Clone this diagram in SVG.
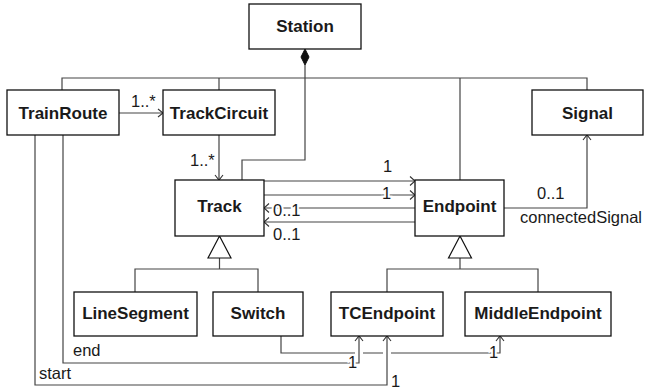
<svg xmlns="http://www.w3.org/2000/svg" width="645" height="390" viewBox="0 0 645 390">
<style>
.box{fill:#fff;stroke:#111;stroke-width:1.3}
.cn{font-family:"Liberation Sans",Arial,sans-serif;font-weight:bold;font-size:17px;fill:#1a1a1a;text-anchor:middle}
.ln{fill:none;stroke:#444;stroke-width:1.2}
.lbl{font-family:"Liberation Sans",Arial,sans-serif;font-size:16.5px;fill:#1a1a1a}
.bg{stroke:#fff;stroke-width:4;paint-order:stroke}
.ah{fill:none;stroke:#333;stroke-width:1.1}
.tri{fill:#fff;stroke:#111;stroke-width:1.2}
</style>
<rect width="645" height="390" fill="#fff"/>
<g id="connectors">
  <!-- composition bus from Station -->
  <polygon points="305,49 309,57 305,65 301,57" fill="#111" stroke="#111" stroke-width="1"/>
  <path class="ln" d="M305,65 V160 H242 V180"/>
  <path class="ln" d="M62,90 V78 H587 V90"/>
  <path class="ln" d="M219,78 V90"/>
  <path class="ln" d="M460,78 V180"/>
  <!-- TrainRoute -> TrackCircuit -->
  <path class="ln" d="M119,113 H163"/>
  <path class="ah" d="M158,109 L163,113 L158,117"/>
  <text class="lbl" x="131" y="107">1..*</text>
  <!-- TrackCircuit -> Track -->
  <path class="ln" d="M219,135 V180"/>
  <path class="ah" d="M215,175 L219,180 L223,175"/>
  <text class="lbl" x="190" y="166">1..*</text>
  <!-- Track <-> Endpoint -->
  <path class="ln" d="M264,181 H415"/>
  <path class="ah" d="M410,176.5 L415,181 L410,185.5"/>
  <text class="lbl" x="383" y="172">1</text>
  <path class="ln" d="M264,195 H415"/>
  <path class="ah" d="M410,190.5 L415,195 L410,199.5"/>
  <text class="lbl bg" x="382" y="199">1</text>
  <path class="ln" d="M264,208 H415"/>
  <path class="ah" d="M269,203.5 L264,208 L269,212.5"/>
  <text class="lbl bg" x="273" y="216">0..1</text>
  <path class="ln" d="M264,222 H415"/>
  <path class="ah" d="M269,217.5 L264,222 L269,226.5"/>
  <text class="lbl" x="273" y="240">0..1</text>
  <!-- Endpoint -> Signal -->
  <path class="ln" d="M504,208 H587 V135"/>
  <path class="ah" d="M583,140 L587,135 L591,140"/>
  <text class="lbl" x="537" y="199">0..1</text>
  <text class="lbl" x="520" y="223">connectedSignal</text>
  <!-- generalizations -->
  <path class="ln" d="M219.5,258 V269 M135,292 V269 H258 V292"/>
  <polygon class="tri" points="219.5,236 231,258 208,258"/>
  <path class="ln" d="M460,258 V269 M387,292 V269 H538 V292"/>
  <polygon class="tri" points="460,236 471.5,258 448.5,258"/>
  <!-- Switch -> MiddleEndpoint -->
  <path class="ln" d="M281,336 V353 H355 M363,353 H383 M391,353 H500 V336"/>
  <path class="ah" d="M496,341 L500,336 L504,341"/>
  <text class="lbl bg" x="489" y="358">1</text>
  <!-- TrainRoute end -> TCEndpoint -->
  <path class="ln" d="M63,135 V363 H359 V336"/>
  <path class="ah" d="M355,341 L359,336 L363,341"/>
  <text class="lbl" x="73" y="356">end</text>
  <text class="lbl bg" x="348" y="368">1</text>
  <!-- TrainRoute start -> TCEndpoint -->
  <path class="ln" d="M35,135 V385 H387 V336"/>
  <path class="ah" d="M383,341 L387,336 L391,341"/>
  <text class="lbl" x="39" y="379">start</text>
  <text class="lbl" x="391" y="386.5" font-size="15.5">1</text>
</g>
<g id="Station"><rect class="box" x="249" y="4" width="112" height="45"/><text class="cn" x="305" y="32">Station</text></g>
<g id="TrainRoute"><rect class="box" x="7" y="90" width="112" height="45"/><text class="cn" x="63" y="119">TrainRoute</text></g>
<g id="TrackCircuit"><rect class="box" x="163" y="90" width="112" height="45"/><text class="cn" x="219" y="119">TrackCircuit</text></g>
<g id="Signal"><rect class="box" x="532" y="90" width="111" height="45"/><text class="cn" x="587.5" y="119">Signal</text></g>
<g id="Track"><rect class="box" x="175" y="180" width="89" height="56"/><text class="cn" x="219.5" y="212">Track</text></g>
<g id="Endpoint"><rect class="box" x="415" y="180" width="89" height="56"/><text class="cn" x="459.5" y="212">Endpoint</text></g>
<g id="LineSegment"><rect class="box" x="74" y="292" width="123" height="44"/><text class="cn" x="135.5" y="319">LineSegment</text></g>
<g id="Switch"><rect class="box" x="213" y="292" width="90" height="44"/><text class="cn" x="258" y="319">Switch</text></g>
<g id="TCEndpoint"><rect class="box" x="331" y="292" width="112" height="44"/><text class="cn" x="387" y="319">TCEndpoint</text></g>
<g id="MiddleEndpoint"><rect class="box" x="465" y="292" width="146" height="44"/><text class="cn" x="538" y="319">MiddleEndpoint</text></g>
</svg>
